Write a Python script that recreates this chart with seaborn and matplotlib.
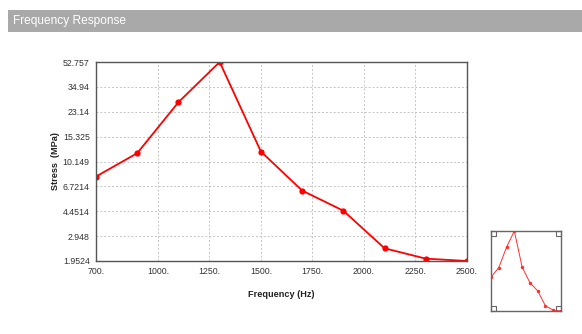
import matplotlib
matplotlib.use("Agg")
import matplotlib.pyplot as plt
from matplotlib.patches import Rectangle
import numpy as np
import pandas as pd
import seaborn as sns

# Harmonic response: stress amplitude against excitation frequency
frequency = [700, 900, 1100, 1300, 1500, 1700, 1900, 2100, 2300, 2500]
stress = [7.91, 11.65, 27.1, 52.757, 11.97, 6.27, 4.49, 2.41, 2.03, 1.9524]

y_ticks = [1.9524, 2.948, 4.4514, 6.7214, 10.149, 15.325, 23.14, 34.94, 52.757]
y_tick_labels = ["1.9524", "2.948", "4.4514", "6.7214", "10.149", "15.325", "23.14", "34.94", "52.757"]
x_ticks = [700, 1000, 1250, 1500, 1750, 2000, 2250, 2500]
x_tick_labels = ["700.", "1000.", "1250.", "1500.", "1750.", "2000.", "2250.", "2500."]

df = pd.DataFrame({"Frequency": frequency, "Stress": stress})

sns.set_theme(style="white")
plt.rcParams["font.family"] = ["Liberation Sans", "DejaVu Sans"]

fig = plt.figure(figsize=(5.82, 3.34), dpi=100)
W, H = 582, 334

# Header band
fig.patches.append(Rectangle((8 / W, 1 - 32 / H), (W - 8) / W, 22 / H,
                             transform=fig.transFigure, facecolor="#a9a9a9",
                             edgecolor="none", zorder=0))
fig.text(13 / W, 1 - 21 / H, "Frequency Response", color="white",
         fontsize=8.6, va="center", ha="left")

# Main chart
ax = fig.add_axes([96 / W, 1 - 261 / H, (467 - 96) / W, (261 - 62) / H])
sns.lineplot(data=df, x="Frequency", y="Stress", ax=ax, color="#ff0000",
             marker="o", markersize=4.5, markeredgewidth=0, linewidth=1.3)
ax.set_yscale("log")
ax.set_xlim(700, 2500)
ax.set_ylim(y_ticks[0], y_ticks[-1])
ax.set_yticks(y_ticks)
ax.set_yticklabels(y_tick_labels)
ax.yaxis.set_minor_locator(matplotlib.ticker.NullLocator())
ax.set_xticks(x_ticks)
ax.set_xticklabels(x_tick_labels)
ax.tick_params(axis="both", labelsize=6.3, length=2.5, width=0.6,
               direction="out", pad=2, colors="#777777", labelcolor="#333333")
ax.grid(True, linestyle=(0, (2, 2)), color="#c4c4c4", linewidth=0.7)
for s in ax.spines.values():
    s.set_color("#555555")
    s.set_linewidth(1.0)
ax.set_xlabel("Frequency (Hz)", fontsize=6.6, fontweight="bold", color="#222222",
              labelpad=10)
ax.set_ylabel("Stress  (MPa)", fontsize=6.6, fontweight="bold", color="#222222",
              labelpad=2)

# Overview thumbnail
ax2 = fig.add_axes([491 / W, 1 - 311 / H, (561 - 491) / W, (311 - 231) / H])
sns.lineplot(data=df, x="Frequency", y="Stress", ax=ax2, color="#ff3030",
             marker="o", markersize=2.5, markeredgewidth=0, linewidth=0.7)
ax2.set_yscale("log")
ax2.set_xlim(700, 2500)
ax2.set_ylim(y_ticks[0], y_ticks[-1])
ax2.set_xticks([])
ax2.set_yticks([])
ax2.minorticks_off()
ax2.set_xlabel("")
ax2.set_ylabel("")
for s in ax2.spines.values():
    s.set_color("#666666")
    s.set_linewidth(1.0)
sq = 0.07
for cx, cy in [(0, 1 - sq * 70 / 80), (1 - sq, 1 - sq * 70 / 80), (0, 0), (1 - sq, 0)]:
    ax2.add_patch(Rectangle((cx, cy), sq, sq * 70 / 80, transform=ax2.transAxes,
                            facecolor="none", edgecolor="#666666", linewidth=0.8,
                            clip_on=False))

fig.savefig("out.png", dpi=100)
